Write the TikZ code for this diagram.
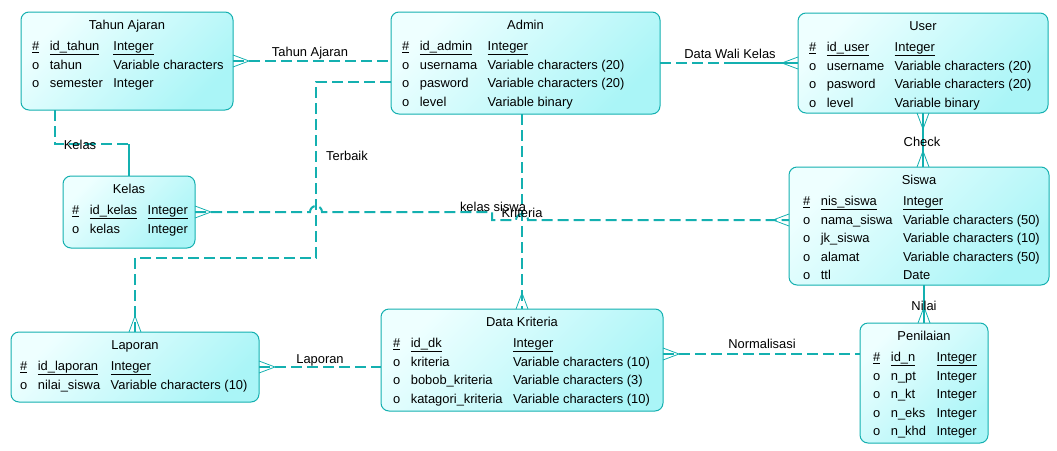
\documentclass[tikz,border=0pt]{standalone}
\usepackage{fontspec}
\setmainfont{Liberation Sans}
\usepackage{xcolor}
\usepackage{tikz}
\usetikzlibrary{calc}
\definecolor{erline}{RGB}{20,176,176}
\definecolor{erlight}{RGB}{238,255,255}
\definecolor{erdark}{RGB}{170,245,247}
\newcommand{\erfont}{\fontsize{12.9}{18.6}\selectfont}
\newcommand{\pkrow}[2]{\underline{\#} & \underline{#1} & \underline{#2}\\}
\newcommand{\atrow}[2]{o & #1 & #2\\}
% name, x, y, width, height, pad, title, rows
\newcommand{\entity}[8]{%
  \node[entbox, minimum width=#4pt, minimum height=#5pt] (#1) at (#2,#3) {};
  \node[enttitle] (#1-title) at ([yshift=-17.5pt]#1.north) {#7};
  \node[entattr] (#1-attr) at ([xshift=#6pt, yshift=-38.5pt]#1.north west)
    {\begin{tabular}[t]{@{}l@{\hspace{10.5pt}}l@{\hspace{10.5pt}}l@{}}#8\end{tabular}};
}
\tikzset{crow/.pic={\draw[erline, line width=0.8pt] (0pt,6pt) -- (16pt,0pt) -- (0pt,-6pt);}}

\begin{document}
\begin{tikzpicture}[x=1pt, y=-1pt,
    rel/.style={draw=erline, line width=2pt, dash pattern=on 11pt off 5pt},
    relsolid/.style={draw=erline, line width=2pt},
    entbox/.style={draw=erline, line width=1pt, outer sep=0, rounded corners=8pt, anchor=north west,
      top color=erlight, bottom color=erdark, shading angle=45},
    enttitle/.style={anchor=base, inner sep=0, font=\erfont},
    entattr/.style={anchor=base west, inner sep=0, font=\erfont},
    lbl/.style={anchor=base, inner sep=0, font=\erfont}]
  \useasboundingbox (0,0) rectangle (1057,450);

  % Entities
	\entity{tahun}{21}{12}{212}{98}{11}{Tahun Ajaran}{\pkrow{id\_tahun}{Integer}\atrow{tahun}{Variable characters}\atrow{semester}{Integer}}
	\entity{admin}{391}{12}{269}{102}{11}{Admin}{\pkrow{id\_admin}{Integer}\atrow{usernama}{Variable characters (20)}\atrow{pasword}{Variable characters (20)}\atrow{level}{Variable binary}}
	\entity{user}{798}{13}{250}{100}{11}{User}{\pkrow{id\_user}{Integer}\atrow{username}{Variable characters (20)}\atrow{pasword}{Variable characters (20)}\atrow{level}{Variable binary}}
	\entity{kelas}{63}{176}{132}{72}{9}{Kelas}{\pkrow{id\_kelas}{Integer}\atrow{kelas}{Integer}}
	\entity{siswa}{789}{167}{260}{118}{14}{Siswa}{\pkrow{nis\_siswa}{Integer}\atrow{nama\_siswa}{Variable characters (50)}\atrow{jk\_siswa}{Variable characters (10)}\atrow{alamat}{Variable characters (50)}\atrow{ttl}{Date}}
	\entity{laporan}{11}{332}{248}{70}{9}{Laporan}{\pkrow{id\_laporan}{Integer}\atrow{nilai\_siswa}{Variable characters (10)}}
	\entity{dk}{381}{309}{282}{102}{12}{Data Kriteria}{\pkrow{id\_dk}{Integer}\atrow{kriteria}{Variable characters (10)}\atrow{bobob\_kriteria}{Variable characters (3)}\atrow{katagori\_kriteria}{Variable characters (10)}}
	\entity{penilaian}{860}{323}{128}{120}{13}{Penilaian}{\pkrow{id\_n}{Integer}\atrow{n\_pt}{Integer}\atrow{n\_kt}{Integer}\atrow{n\_eks}{Integer}\atrow{n\_khd}{Integer}}

  % Relationships
	\coordinate (wali) at ($(admin.east)!0.5!(admin.east -| user.west)$);
	\coordinate (norm) at ([yshift=6pt]dk.east);
	\coordinate (kbend) at (kelas.north |- 0,144);
	\draw[rel] (tahun.east) -- (tahun.east -| admin.west);
	\draw[rel] (admin.east) -- (wali);
	\draw[relsolid] (wali) -- (admin.east -| user.west);
	\draw[relsolid] (user.south) -- (user.south |- siswa.north);
	\draw[relsolid] (penilaian.north |- siswa.south) -- (penilaian.north);
	\draw[rel] (dk.north |- admin.south) -- (dk.north);
	\draw[rel] (norm) -- (norm -| penilaian.west);
	\draw[rel] (laporan.east) -- (laporan.east -| dk.west);
	\draw[rel] (admin.west |- 0,82) -| (316,258) -| (laporan.north);
	\draw[rel] (tahun.south -| 55,0) |- (kbend);
	\draw[relsolid] (kbend) -- (kelas.north);
	\draw[rel] (kelas.east) -- (310,212) arc[start angle=180, end angle=0, radius=6pt]
	  -- (492,212) -- (492,220) -- (516,220) arc[start angle=180, end angle=0, radius=6pt]
	  -- (siswa.west |- 0,220);

  % Crow's feet
	\pic at (tahun.east) {crow};
	\pic[rotate=180] at (admin.east -| user.west) {crow};
	\pic at (kelas.east) {crow};
	\pic[rotate=180] at (siswa.west |- 0,220) {crow};
	\pic[rotate=90] at (laporan.north) {crow};
	\pic[rotate=90] at (dk.north) {crow};
	\pic[rotate=-90] at (user.south) {crow};
	\pic[rotate=90] at (user.south |- siswa.north) {crow};
	\pic[rotate=90] at (penilaian.north) {crow};
	\pic at (norm) {crow};
	\pic at (laporan.east) {crow};

  % Labels
	\node[lbl] (lTahun) at (310,56.5) {Tahun Ajaran};
	\node[lbl] (lWali) at (730,58) {Data Wali Kelas};
	\node[lbl] (lTerbaik) at (347,160) {Terbaik};
	\node[lbl] (lKelas) at (80,149) {Kelas};
	\node[lbl] (lCheck) at (922,146) {Check};
	\node[lbl] (lKelasSiswa) at (493,211.5) {kelas siswa};
	\node[lbl] (lKriteria) at (522,217) {Kriteria};
	\node[lbl] (lNilai) at (924,310.5) {Nilai};
	\node[lbl] (lNormal) at (762,348) {Normalisasi};
	\node[lbl] (lLaporan) at (320,363) {Laporan};
\end{tikzpicture}
\end{document}
